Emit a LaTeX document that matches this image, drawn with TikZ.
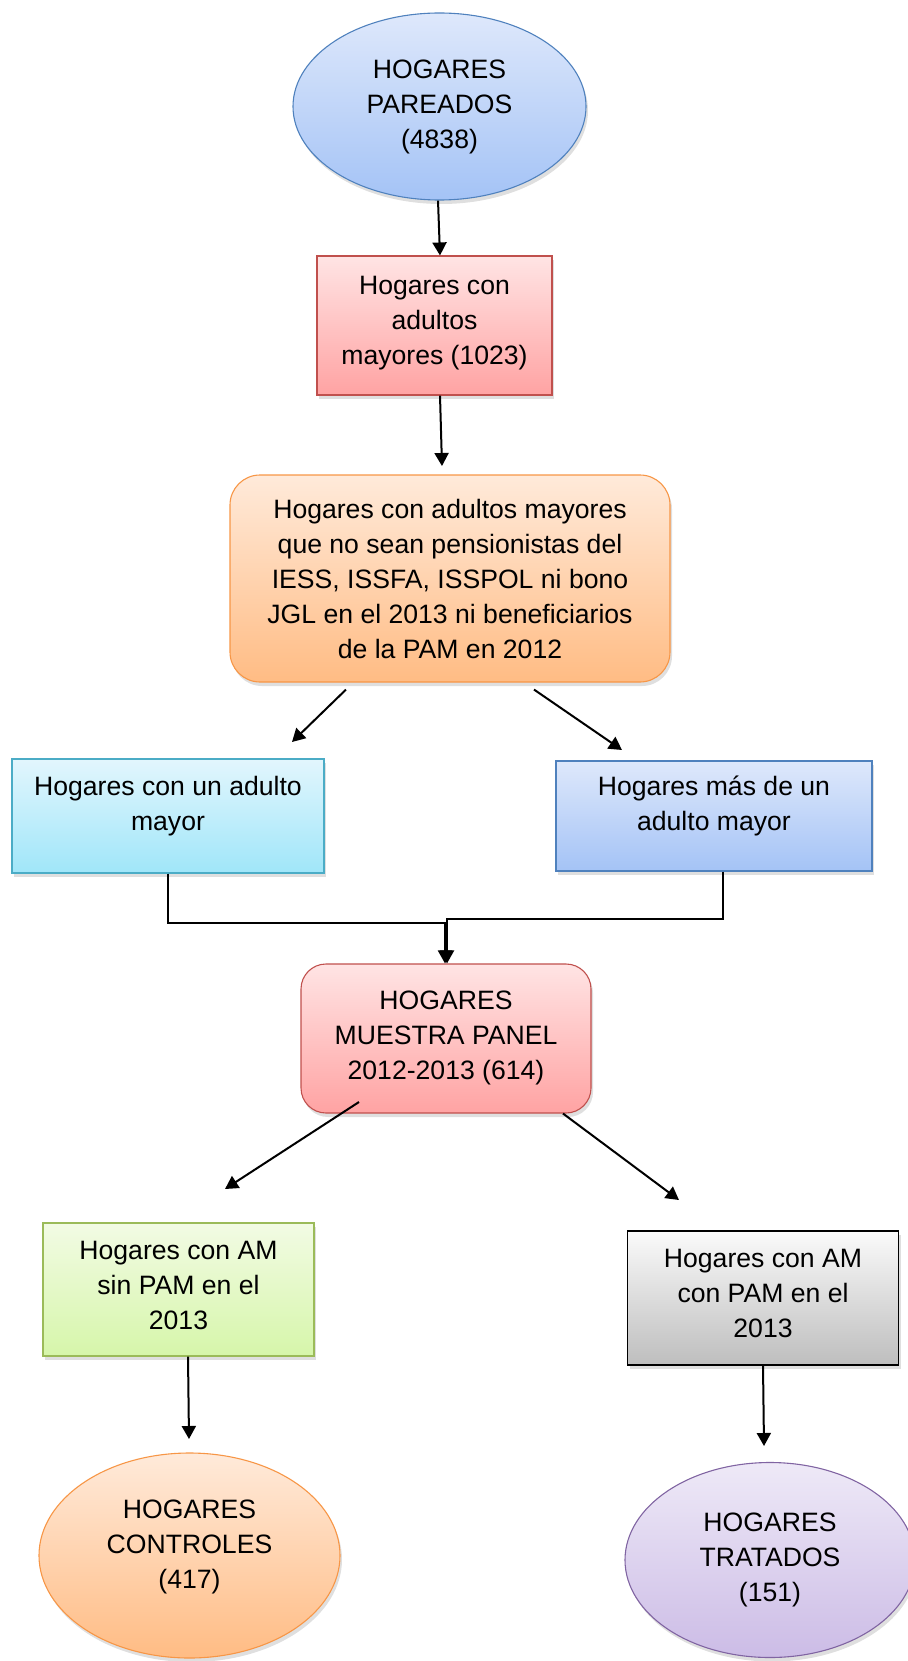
\documentclass[tikz,border=0pt]{standalone}
\usepackage{fontspec}
\setmainfont{Liberation Sans}
\usetikzlibrary{arrows.meta,shapes.geometric,shadows}

\definecolor{bordeazul}{RGB}{79,129,189}
\definecolor{borderojo}{RGB}{192,80,77}
\definecolor{bordenaranja}{RGB}{247,150,70}
\definecolor{bordecian}{RGB}{75,172,198}
\definecolor{bordeverde}{RGB}{155,187,89}
\definecolor{bordelila}{RGB}{128,100,162}

\begin{document}
\begin{tikzpicture}[x=1pt,y=-1pt,
  font=\fontsize{26.6}{35}\selectfont,
  caja/.style={draw,line width=1.1pt,align=center,inner sep=0pt,
    drop shadow={opacity=0.25,shadow xshift=2pt,shadow yshift=-4pt}},
  azul/.style={draw=bordeazul,top color={rgb,255:red,222;green,232;blue,251},bottom color={rgb,255:red,164;green,195;blue,246}},
  rojo/.style={draw=borderojo,top color={rgb,255:red,255;green,228;blue,228},bottom color={rgb,255:red,255;green,163;blue,163}},
  naranja/.style={draw=bordenaranja,top color={rgb,255:red,255;green,234;blue,218},bottom color={rgb,255:red,255;green,188;blue,132}},
  cian/.style={draw=bordecian,top color={rgb,255:red,226;green,246;blue,253},bottom color={rgb,255:red,160;green,230;blue,249}},
  verde/.style={draw=bordeverde,top color={rgb,255:red,242;green,251;blue,228},bottom color={rgb,255:red,214;green,246;blue,170}},
  gris/.style={draw=black,top color={rgb,255:red,250;green,250;blue,250},bottom color={rgb,255:red,190;green,190;blue,190}},
  lila/.style={draw=bordelila,top color={rgb,255:red,238;green,233;blue,247},bottom color={rgb,255:red,204;green,188;blue,230}},
  flecha/.style={line width=2pt,-{Triangle[length=13pt,width=14pt]}}]
\useasboundingbox (0,0) rectangle (907,1661);

% nodos
\node[caja,azul,ellipse,minimum width=293pt,minimum height=187pt] (pareados) at (439.5,106.5) {HOGARES\\PAREADOS\\(4838)};
\node[caja,rojo,minimum width=235pt,minimum height=139pt] (adultos) at (434.5,325.5) {Hogares con\\adultos\\mayores (1023)\\[-25pt]};
\node[caja,naranja,rounded corners=30pt,minimum width=440pt,minimum height=207pt] (cond) at (450,578.5)
  {Hogares con adultos mayores\\que no sean pensionistas del\\IESS, ISSFA, ISSPOL ni bono\\JGL en el 2013 ni beneficiarios\\de la PAM en 2012};
\node[caja,cian,minimum width=312pt,minimum height=114pt] (unmayor) at (168,816) {Hogares con un adulto\\mayor\\[-9pt]};
\node[caja,azul,minimum width=316pt,minimum height=110pt] (varios) at (714,816) {Hogares más de un\\adulto mayor\\[-9pt]};
\node[caja,rojo,rounded corners=25pt,minimum width=290pt,minimum height=149pt] (panel) at (446,1038.5) {HOGARES\\MUESTRA PANEL\\2012-2013 (614)\\[-29pt]};
\node[caja,verde,minimum width=271pt,minimum height=133pt] (sinpam) at (178.5,1289.5) {Hogares con AM\\sin PAM en el\\2013\\[-26pt]};
\node[caja,gris,minimum width=271pt,minimum height=134pt] (conpam) at (763,1298) {Hogares con AM\\con PAM en el\\2013\\[-25pt]};
\node[caja,naranja,ellipse,minimum width=301pt,minimum height=205pt] (controles) at (189.5,1555.5) {HOGARES\\CONTROLES\\(417)\\[-12pt]};
\node[caja,lila,ellipse,minimum width=290pt,minimum height=195pt] (tratados) at (770,1560) {HOGARES\\TRATADOS\\(151)};

% puntas libres
\coordinate (f2) at (442,466);
\coordinate (f3) at (292,742);
\coordinate (f4) at (622,750);
\coordinate (f7) at (225,1189);
\coordinate (f8) at (679,1200);
\coordinate (f9) at (189,1439);
\coordinate (f10) at (764,1446);

% conectores
\draw[flecha] ([xshift=-1.5pt]pareados.south) -- ([xshift=5.5pt]adultos.north);
\draw[flecha] ([xshift=5.5pt]adultos.south) -- (f2);
\draw[flecha] ([xshift=-104pt,yshift=-7pt]cond.south) -- (f3);
\draw[flecha] ([xshift=84pt,yshift=-7pt]cond.south) -- (f4);
\draw[flecha] (unmayor.south) -- ++(0,49) -| ([xshift=-1pt]panel.north);
\draw[flecha] ([xshift=9pt]varios.south) -- ++(0,47) -| ([xshift=1pt]panel.north);
\draw[flecha] ([xshift=-87pt,yshift=-63.5pt]panel.center) -- (f7);
\draw[flecha] ([xshift=117pt]panel.south) -- (f8);
\draw[flecha] ([xshift=9.5pt]sinpam.south) -- (f9);
\draw[flecha] (conpam.south) -- (f10);
\end{tikzpicture}
\end{document}
